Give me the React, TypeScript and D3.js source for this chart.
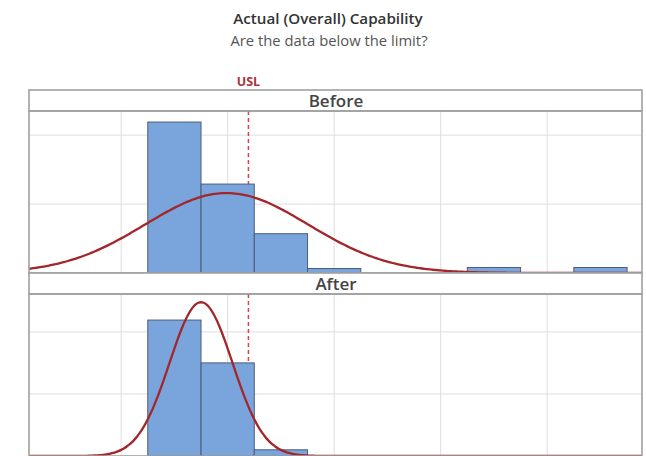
import React, { useEffect, useRef } from "react";
import * as d3 from "d3";

// histogram bins (lower edges, width 1) and percent per bin
const binStarts = [0.5, 1.5, 2.5, 3.5, 4.5, 5.5, 6.5, 7.5, 8.5];
const beforePct = [21.9, 12.9, 5.7, 0.65, 0, 0, 0.8, 0, 0.8];
const afterPct = [21.9, 15.0, 1.0, 0, 0, 0, 0, 0, 0];
const panelNames = ["Before", "After"];
const xTicks = [0, 2, 4, 6, 8];
const yTicks = [10, 20];
// fitted normal curves: mean, sd, peak height (percent)
const beforeFit = [1.98, 1.53, 11.6];
const afterFit = [1.5, 0.59, 24.8];
const usl = 2.39;

const W = 646;
const H = 456;

export default function App() {
  const ref = useRef<SVGSVGElement>(null);

  useEffect(() => {
    const svg = d3.select(ref.current);
    svg.selectAll("*").remove();

    const left = 29, right = 642, top = 90;
    const stripH = 21, panelH = 162;
    const x = d3.scaleLinear().domain([-1.73, 9.78]).range([left, right]);

    svg.append("text").attr("x", 328).attr("y", 24).attr("text-anchor", "middle")
      .attr("font-family", "Open Sans").attr("font-weight", 600).attr("font-size", 15.2)
      .attr("fill", "#333").text("Actual (Overall) Capability");
    svg.append("text").attr("x", 329).attr("y", 46).attr("text-anchor", "middle")
      .attr("font-family", "Open Sans").attr("font-size", 14.8)
      .attr("fill", "#555").text("Are the data below the limit?");
    svg.append("text").attr("x", x(usl)).attr("y", 86).attr("text-anchor", "middle")
      .attr("font-family", "Open Sans").attr("font-weight", 700).attr("font-size", 12.5)
      .attr("fill", "#a8343a").text("USL");

    const defs = svg.append("defs");

    const series = [beforePct, afterPct];
    const fits = [beforeFit, afterFit];
    const yMax = [23.5, 26.1];

    panelNames.forEach((name, i) => {
      const sTop = top + i * (stripH + panelH);
      const pTop = sTop + stripH;
      const pBot = pTop + panelH;
      const y = d3.scaleLinear().domain([0, yMax[i]]).range([pBot, pTop]);

      // strip
      svg.append("rect").attr("x", left).attr("y", sTop).attr("width", right - left)
        .attr("height", stripH).attr("fill", "#fff").attr("stroke", "#a0a0a0").attr("stroke-width", 1.6);
      svg.append("text").attr("x", 336).attr("y", sTop + 17).attr("text-anchor", "middle")
        .attr("font-family", "Open Sans").attr("font-weight", 600).attr("font-size", 17)
        .attr("fill", "#444").text(name);

      const clipId = "clip" + i;
      defs.append("clipPath").attr("id", clipId).append("rect")
        .attr("x", left).attr("y", pTop).attr("width", right - left).attr("height", panelH);

      const g = svg.append("g").attr("clip-path", `url(#${clipId})`);

      // grid
      g.selectAll(".vg").data(xTicks).enter().append("line")
        .attr("x1", d => x(d)).attr("x2", d => x(d)).attr("y1", pTop).attr("y2", pBot)
        .attr("stroke", "#dedede").attr("stroke-width", 1);
      g.selectAll(".hg").data(yTicks).enter().append("line")
        .attr("x1", left).attr("x2", right).attr("y1", d => y(d)).attr("y2", d => y(d))
        .attr("stroke", "#dedede").attr("stroke-width", 1);

      // USL
      g.append("line").attr("x1", x(usl)).attr("x2", x(usl)).attr("y1", pTop).attr("y2", pBot)
        .attr("stroke", "#d8434b").attr("stroke-width", 1.5).attr("stroke-dasharray", "4,3");

      // bars
      const bins = binStarts.map((b, j) => ({ b, v: series[i][j] })).filter(d => d.v > 0);
      g.selectAll(".bar").data(bins).enter().append("rect")
        .attr("x", d => x(d.b)).attr("width", d => x(d.b + 1) - x(d.b))
        .attr("y", d => y(d.v)).attr("height", d => y(0) - y(d.v))
        .attr("fill", "#79a5dc").attr("stroke", "#4d5d77").attr("stroke-width", 1);

      // normal fit
      const [mu, sd, peak] = fits[i];
      const pts = d3.range(-1.8, 9.9, 0.05).map(t => [t, peak * Math.exp(-((t - mu) ** 2) / (2 * sd * sd))]);
      const line = d3.line<number[]>().x(d => x(d[0])).y(d => y(d[1])).curve(d3.curveBasis);
      g.append("path").attr("d", line(pts)).attr("fill", "none")
        .attr("stroke", "#a3262c").attr("stroke-width", 2.3);

      // panel border
      svg.append("rect").attr("x", left).attr("y", pTop).attr("width", right - left)
        .attr("height", panelH).attr("fill", "none").attr("stroke", "#a0a0a0").attr("stroke-width", 1.6);
    });
  }, []);

  return (
    <svg ref={ref} width={W} height={H}
      style={{ position: "absolute", left: 0, top: 0, background: "#fff" }} />
  );
}
